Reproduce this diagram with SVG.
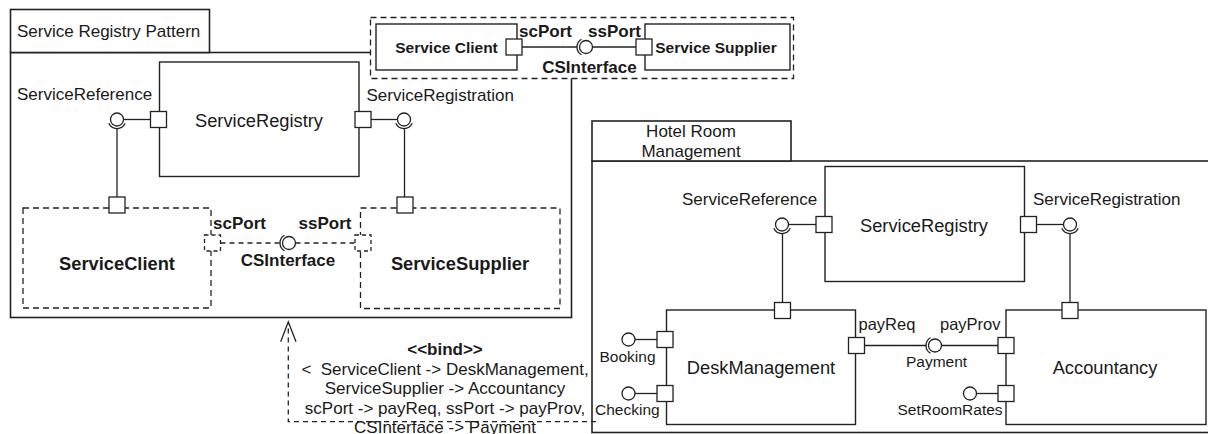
<svg xmlns="http://www.w3.org/2000/svg" width="1208" height="434" viewBox="0 0 1208 434">
<style>
.frame{fill:#fff;stroke:#222;stroke-width:1.6}
.box{fill:#fff;stroke:#222;stroke-width:1.4}
.dbox{fill:#fff;stroke:#222;stroke-width:1.3;stroke-dasharray:6 4}
.port{fill:#fff;stroke:#222;stroke-width:1.3}
.dport{fill:#fff;stroke:#222;stroke-width:1.3;stroke-dasharray:4 3}
.ln{fill:none;stroke:#222;stroke-width:1.3}
.dln{fill:none;stroke:#222;stroke-width:1.3;stroke-dasharray:5 4}
.ball{fill:#fff;stroke:#222;stroke-width:1.3}
text{font-family:"Liberation Sans",Arial,sans-serif;fill:#1a1a1a}
.t17{font-size:17px}
.t15{font-size:15.5px}
.t16{font-size:16.5px}
.big{font-size:18.3px}
.b{font-weight:bold}
.m{text-anchor:middle}
</style>

<g id="pattern-frame">
<rect class="frame" x="10.5" y="52.5" width="561" height="265"/>
<rect class="frame" x="10.5" y="9.5" width="199" height="43"/>
<text class="t17" x="17" y="36.5">Service Registry Pattern</text>
</g>

<g id="legend">
<rect class="dbox" x="370.5" y="17.5" width="423" height="61"/>
<g id="legend-client">
<rect class="box" x="376" y="24" width="141" height="46"/>
<text class="t15 b m" x="446.5" y="53">Service Client</text>
<rect class="port" x="506" y="39" width="16" height="16"/>
</g>
<g id="legend-supplier">
<rect class="box" x="645" y="24" width="145" height="46"/>
<text class="t15 b m" x="716" y="53">Service Supplier</text>
<rect class="port" x="636" y="39" width="16" height="16"/>
</g>
<text class="t17 b" x="519" y="36.5">scPort</text>
<text class="t17 b" x="588" y="36.5">ssPort</text>
<text class="t17 b m" x="589.5" y="72.5">CSInterface</text>
</g>

<g id="p-registry">
<rect class="box" x="159.5" y="62" width="199.5" height="114.5"/>
<text class="big m" x="259" y="126.5">ServiceRegistry</text>
<rect class="port" x="150.5" y="111.5" width="16" height="16"/>
<rect class="port" x="355" y="111.5" width="16" height="16"/>
</g>

<g id="p-client">
<rect class="dbox" x="23" y="208" width="188" height="100"/>
<text class="big b m" x="117" y="270">ServiceClient</text>
<rect class="port" x="109" y="197" width="16" height="16"/>
<rect class="dport" x="204.5" y="235" width="16" height="16"/>
</g>

<g id="p-supplier">
<rect class="dbox" x="360.5" y="208" width="199.5" height="100.5"/>
<text class="big b m" x="460" y="270">ServiceSupplier</text>
<rect class="port" x="397" y="197" width="16" height="16"/>
<rect class="dport" x="355" y="235" width="16" height="16"/>
</g>

<g id="hotel-frame">
<rect class="frame" x="592" y="161" width="620" height="271.5"/>
<rect class="frame" x="592" y="121" width="199" height="40"/>
<text class="t17 m" x="691" y="136.5">Hotel Room</text>
<text class="t17 m" x="691" y="156.5">Management</text>
</g>

<g id="h-registry">
<rect class="box" x="825" y="166.5" width="199.5" height="115"/>
<text class="big m" x="924" y="231.5">ServiceRegistry</text>
<rect class="port" x="816" y="216.5" width="16" height="16"/>
<rect class="port" x="1020.5" y="216.5" width="16" height="16"/>
</g>

<g id="h-desk">
<rect class="box" x="666.5" y="310" width="189" height="114.5"/>
<text class="big m" x="761" y="374">DeskManagement</text>
<rect class="port" x="774.5" y="302.5" width="16" height="16"/>
<rect class="port" x="657" y="331.5" width="16" height="16"/>
<rect class="port" x="657" y="385.5" width="16" height="16"/>
<rect class="port" x="848.5" y="337.5" width="16" height="16"/>
</g>

<g id="h-accountancy">
<rect class="box" x="1006" y="310" width="200" height="114.5"/>
<text class="big m" x="1105" y="374">Accountancy</text>
<rect class="port" x="1062" y="302.5" width="16" height="16"/>
<rect class="port" x="998" y="337.5" width="16" height="16"/>
<rect class="port" x="998" y="385.5" width="16" height="16"/>
</g>

<g id="connectors">
<!-- legend CSInterface -->
<line class="ln" x1="522" y1="47" x2="577" y2="47"/>
<path class="ln" d="M581.5,39.2 A9,9 0 0 0 581.5,54.8"/>
<circle class="ball" cx="586" cy="47" r="6.5"/>
<line class="ln" x1="592.5" y1="47" x2="636" y2="47"/>

<!-- pattern ServiceReference -->
<line class="ln" x1="123.5" y1="119.5" x2="150.5" y2="119.5"/>
<circle class="ball" cx="117" cy="119.5" r="6.5"/>
<path class="ln" d="M108.8,123.3 A9,9 0 0 0 125.2,123.3"/>
<line class="ln" x1="117" y1="128.5" x2="117" y2="197"/>
<text class="t17" x="17" y="99.5">ServiceReference</text>

<!-- pattern ServiceRegistration -->
<line class="ln" x1="371" y1="119.5" x2="397.5" y2="119.5"/>
<circle class="ball" cx="404" cy="119.5" r="6.5"/>
<path class="ln" d="M395.8,123.3 A9,9 0 0 0 412.2,123.3"/>
<line class="ln" x1="404.5" y1="128.5" x2="404.5" y2="197"/>
<text class="t17" x="366.5" y="100.5">ServiceRegistration</text>

<!-- pattern CSInterface -->
<line class="dln" x1="220.5" y1="243" x2="280" y2="243"/>
<path class="ln" d="M284.5,235.2 A9,9 0 0 0 284.5,250.8"/>
<circle class="ball" cx="289" cy="243" r="6.5"/>
<line class="dln" x1="295.5" y1="243" x2="355" y2="243"/>
<text class="t17 b" x="213" y="229">scPort</text>
<text class="t17 b" x="298.5" y="229">ssPort</text>
<text class="t17 b m" x="288" y="266">CSInterface</text>

<!-- hotel ServiceReference -->
<line class="ln" x1="788.5" y1="224.5" x2="816" y2="224.5"/>
<circle class="ball" cx="782" cy="224.5" r="6.5"/>
<path class="ln" d="M773.8,228.3 A9,9 0 0 0 790.2,228.3"/>
<line class="ln" x1="782.5" y1="233.5" x2="782.5" y2="302.5"/>
<text class="t17" x="682" y="204.5">ServiceReference</text>

<!-- hotel ServiceRegistration -->
<line class="ln" x1="1036.5" y1="224.5" x2="1063.5" y2="224.5"/>
<circle class="ball" cx="1070" cy="224.5" r="6.5"/>
<path class="ln" d="M1061.8,228.3 A9,9 0 0 0 1078.2,228.3"/>
<line class="ln" x1="1070" y1="233.5" x2="1070" y2="302.5"/>
<text class="t17" x="1033" y="204.5">ServiceRegistration</text>

<!-- Booking / Checking / SetRoomRates -->
<line class="ln" x1="635" y1="339.5" x2="657" y2="339.5"/>
<circle class="ball" cx="628.5" cy="339.5" r="6.5"/>
<text class="t15" x="599.5" y="362">Booking</text>
<line class="ln" x1="635" y1="393.5" x2="657" y2="393.5"/>
<circle class="ball" cx="628.5" cy="393.5" r="6.5"/>
<text class="t15" x="595" y="415">Checking</text>
<line class="ln" x1="976.5" y1="393.5" x2="998" y2="393.5"/>
<circle class="ball" cx="970" cy="393.5" r="6.5"/>
<text class="t15" x="897.5" y="414.5">SetRoomRates</text>

<!-- Payment -->
<line class="ln" x1="864.5" y1="345.5" x2="926" y2="345.5"/>
<path class="ln" d="M930.5,337.7 A9,9 0 0 0 930.5,353.3"/>
<circle class="ball" cx="935" cy="345.5" r="6.5"/>
<line class="ln" x1="941.5" y1="345.5" x2="998" y2="345.5"/>
<text class="t16" x="858.5" y="330">payReq</text>
<text class="t16" x="940" y="330">payProv</text>
<text class="t15" x="906" y="366.5">Payment</text>

<!-- bind -->
<polyline class="dln" points="596,421.7 288.3,421.7 288.3,324"/>
<polyline class="ln" points="280.7,341.7 288.3,321.7 296,341.7"/>
<text class="t17 b m" x="445" y="355">&lt;&lt;bind&gt;&gt;</text>
<text class="t17 m" x="445" y="374.5" xml:space="preserve">&lt;  ServiceClient -&gt; DeskManagement,</text>
<text class="t17 m" x="445" y="394">ServiceSupplier -&gt; Accountancy</text>
<text class="t17 m" x="445" y="413.5">scPort -&gt; payReq, ssPort -&gt; payProv,</text>
<text class="t17 m" x="445" y="433">CSInterface -&gt; Payment</text>
</g>
</svg>
